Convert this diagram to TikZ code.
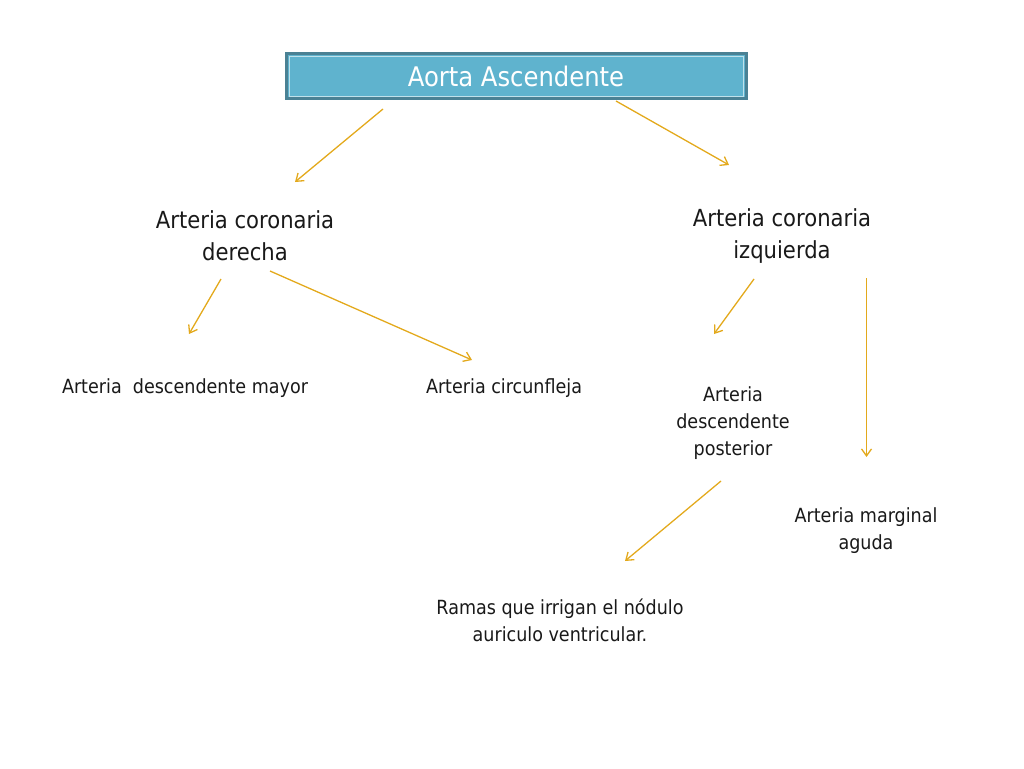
\documentclass[tikz,border=0pt]{standalone}
\usepackage{fontspec}
\setmainfont{DejaVu Sans Condensed}
\usetikzlibrary{arrows.meta}
\definecolor{boxfill}{HTML}{5FB3CE}
\definecolor{boxline}{HTML}{4A8194}
\definecolor{arrc}{HTML}{E3A91C}
\begin{document}
\begin{tikzpicture}[x=1pt,y=-1pt,
 arr/.style={draw=arrc,line width=1.3pt,-{Straight Barb[length=7pt,width=10pt]}},
 big/.style={font=\fontsize{23.5}{32}\selectfont,align=center,text=black!90},
 small/.style={font=\fontsize{19.5}{27}\selectfont,align=center,text=black!90}]
\useasboundingbox (0,0) rectangle (1024,768);
\node[draw=boxline,line width=3pt,fill=boxfill,minimum width=460pt,minimum height=44pt,
 text=white,font=\fontsize{27}{30}\selectfont] (top) at (516,76) {Aorta Ascendente};
\draw[white!60!boxfill,line width=0.7pt] (289,56) rectangle (743,96);
\node[big] (d) at (245,236) {Arteria coronaria\\derecha};
\node[big] (i) at (782,236) {Arteria coronaria\\izquierda};
\node[small] (dm) at (185,388) {Arteria\ \ descendente mayor};
\node[small] (c) at (504,388) {Arteria circunfleja};
\node[small] (dp) at (733,423) {Arteria\\descendente\\posterior};
\node[small] (m) at (866,531) {Arteria marginal\\aguda};
\node[small] (r) at (560,620) {Ramas que irrigan el nódulo\\auriculo ventricular.};
\coordinate (a1) at (383,109); \coordinate (b1) at (295,182);
\coordinate (a2) at (616,101); \coordinate (b2) at (729,165);
\coordinate (a3) at (221,279); \coordinate (b3) at (189,334);
\coordinate (a4) at (270,271); \coordinate (b4) at (472,360);
\coordinate (a5) at (754,279); \coordinate (b5) at (714,334);
\coordinate (a6) at (866.5,278); \coordinate (b6) at (866.5,457);
\coordinate (a7) at (721,481); \coordinate (b7) at (625,561);
\foreach \k in {1,...,7} \draw[arr] (a\k) -- (b\k);
\end{tikzpicture}
\end{document}
